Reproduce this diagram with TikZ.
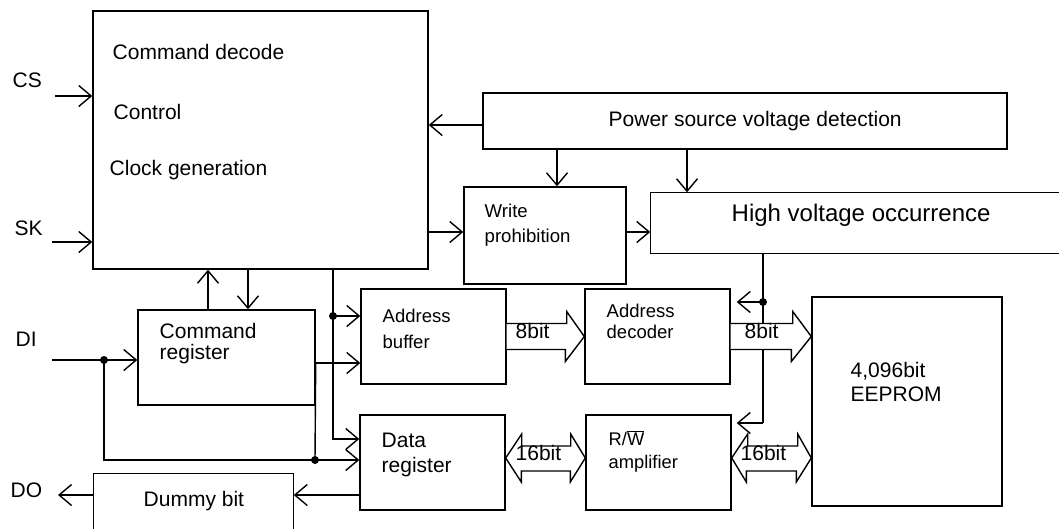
\documentclass[tikz,border=0pt]{standalone}
\usepackage{fontspec}
\setmainfont{Liberation Sans}
\usetikzlibrary{arrows.meta,calc}
\newcommand{\fsz}[1]{\fontsize{#1}{#1}\selectfont}
\begin{document}
\begin{tikzpicture}[x=1pt,y=-1pt,line width=1.4pt,
  blk/.style={draw,rectangle,inner sep=0pt},
  ghost/.style={rectangle,inner sep=0pt},
  arr/.style={-{Straight Barb[length=12.5pt,width=21pt]}},
  busarrow/.style={draw,fill=white,line join=miter},
  lbl/.style={anchor=base west,inner sep=0pt,font=\fsz{21}},
  dot/.style={fill=black}]
\useasboundingbox (0,0) rectangle (1059,528);

% blocks
\node[blk,minimum width=335pt,minimum height=258pt] (main) at (260.5,140) {};
\node[blk,minimum width=524pt,minimum height=56pt] (power) at (745,121) {};
\node[blk,minimum width=162pt,minimum height=97pt] (writep) at (545,235.5) {};
\node[ghost,minimum width=408pt,minimum height=60pt] (highv) at (855,223) {};
\draw (highv.north east) -- (highv.north west) -- (highv.south west) -- (highv.south east);
\node[blk,minimum width=177pt,minimum height=95pt] (cmdreg) at (226.5,357.5) {};
\node[blk,minimum width=145pt,minimum height=95pt] (addrbuf) at (433.5,336.5) {};
\node[blk,minimum width=145pt,minimum height=95pt] (addrdec) at (657.5,336.5) {};
\node[blk,minimum width=145pt,minimum height=95pt] (datareg) at (432.5,462.5) {};
\node[blk,minimum width=145pt,minimum height=95pt] (rwamp) at (658.5,462.5) {};
\node[blk,minimum width=190pt,minimum height=209pt] (eeprom) at (907,401.5) {};
\node[ghost,minimum width=199pt,minimum height=56pt] (dummy) at (193.5,502) {};
\draw (dummy.south west) -- (dummy.north west) -- (dummy.north east) -- (dummy.south east);

% helper coordinates
\coordinate (csin) at (55,96);
\coordinate (skin) at (52,242);
\coordinate (diin) at (52,360);
\coordinate (doout) at (58,495);
\coordinate (jdi) at (104,360);
\coordinate (jcr) at (315,460);
\coordinate (jbus) at (333,316);
\coordinate (jhv) at (763,302);
\coordinate (pw) at ($(power.west)+(0,4)$);
\coordinate (xa) at (557,0);
\coordinate (xb) at (687,0);
\coordinate (ywp) at (0,232);
\coordinate (xu) at (208,0);
\coordinate (xd) at (248,0);
\coordinate (xbus) at (333,0);
\coordinate (ydr) at (0,439);
\coordinate (ycr) at (0,363);
\coordinate (ydo) at (0,495);
\coordinate (xhv) at (763,0);
\coordinate (yrw) at (0,423);

% connectors
\draw[arr] (csin) -- (csin -| main.west);
\draw[arr] (skin) -- (skin -| main.west);
\draw[arr] (pw) -- (pw -| main.east);
\draw[arr] (xa |- power.south) -- (xa |- writep.north);
\draw[arr] (xb |- power.south) -- (xb |- highv.north);
\draw[arr] (ywp -| main.east) -- (ywp -| writep.west);
\draw[arr] (ywp -| writep.east) -- (ywp -| highv.west);
\draw[arr] (xu |- cmdreg.north) -- (xu |- main.south);
\draw[arr] (xd |- main.south) -- (xd |- cmdreg.north);
\draw[arr] (xbus |- main.south) |- (ydr -| datareg.west);
\draw[arr] (jbus) -- (jbus -| addrbuf.west);
\draw[arr] (ycr -| cmdreg.east) -- (ycr -| addrbuf.west);
\draw (ycr -| cmdreg.east) -- (jcr);
\draw[arr] (diin) -- (diin -| cmdreg.west);
\draw[arr] (jdi) |- (jcr -| datareg.west);
\draw[arr] (ydo -| datareg.west) -- (ydo -| dummy.east);
\draw[arr] (ydo -| dummy.west) -- (doout);
\draw (xhv |- highv.south) -- (xhv |- yrw);
\draw[arr] (xhv |- yrw) -- ($(yrw -| rwamp.east)+(5,0)$);
\draw[arr] (jhv) -- ($(jhv -| addrdec.east)+(6,0)$);
\fill[dot] (jdi) circle[radius=4];
\fill[dot] (jcr) circle[radius=4];
\fill[dot] (jbus) circle[radius=4];
\fill[dot] (jhv) circle[radius=4];

% bus arrows
\filldraw[busarrow] ($(addrbuf.east)+(0,-13)$) -- ++(60,0) -- ++(0,-12) -- (addrdec.west) -- ++(-19,25) -- ++(0,-12) -- ($(addrbuf.east)+(0,13)$);
\filldraw[busarrow] ($(addrdec.east)+(0,-13)$) -- ++(62,0) -- ++(0,-12) -- (eeprom.west |- addrdec.east) -- ++(-20,25) -- ++(0,-12) -- ($(addrdec.east)+(0,13)$);
\coordinate (da) at ($(datareg.east)+(0,-4.5)$);
\coordinate (db) at ($(rwamp.west)+(0,-4.5)$);
\filldraw[busarrow] (da) -- ++(16,-24) -- ++(0,12) -- ++(49,0) -- ++(0,-12) -- (db) -- ++(-15,24) -- ++(0,-11) -- ++(-49,0) -- ++(0,11) -- cycle;
\coordinate (dc) at ($(rwamp.east)+(0,-4.5)$);
\filldraw[busarrow] (dc) -- ++(16,-24) -- ++(0,12) -- ++(50,0) -- ++(0,-12) -- (eeprom.west |- dc) -- ++(-15,24) -- ++(0,-11) -- ++(-50,0) -- ++(0,11) -- cycle;

% texts
\node[lbl] (t1) at (112,59) {Command decode};
\node[lbl] (t2) at (113,119) {Control};
\node[lbl] (t3) at (109,175) {Clock generation};
\node[lbl] (tcs) at (12,87) {CS};
\node[lbl] (tsk) at (14,235) {SK};
\node[lbl] (tdi) at (15,346) {DI};
\node[lbl] (tdo) at (10,497) {DO};
\node[lbl] (tps) at (608,126) {Power source voltage detection};
\node[lbl,font=\fsz{18.6}] (twp1) at (484,217) {Write};
\node[lbl,font=\fsz{18.6}] (twp2) at (484,242) {prohibition};
\node[lbl,font=\fsz{24}] (thv) at (731,221) {High voltage occurrence};
\node[lbl,font=\fsz{18.5}] (tab1) at (382,322) {Address};
\node[lbl,font=\fsz{18.5}] (tab2) at (382,348) {buffer};
\node[lbl,font=\fsz{18.5}] (tad1) at (606,317) {Address};
\node[lbl,font=\fsz{18.5}] (tad2) at (606,338) {decoder};
\node[lbl] (tb8a) at (515,338) {8bit};
\node[lbl] (tb8b) at (744,338) {8bit};
\node[lbl] (tdr1) at (381,447) {Data};
\node[lbl] (tdr2) at (381,472) {register};
\node[lbl,font=\fsz{18.3}] (trw1) at (608,445) {R/$\overline{\hbox{W}}$};
\node[lbl,font=\fsz{18.3}] (trw2) at (608,468) {amplifier};
\node[lbl] (tb16a) at (515,460) {16bit};
\node[lbl] (tb16b) at (740,460) {16bit};
\node[lbl] (tee1) at (850,377) {4,096bit};
\node[lbl] (tee2) at (850,401) {EEPROM};
\node[lbl] (tcr1) at (159,338) {Command};
\node[lbl] (tcr2) at (159,359) {register};
\node[lbl] (tdb) at (143,506) {Dummy bit};
\end{tikzpicture}
\end{document}
